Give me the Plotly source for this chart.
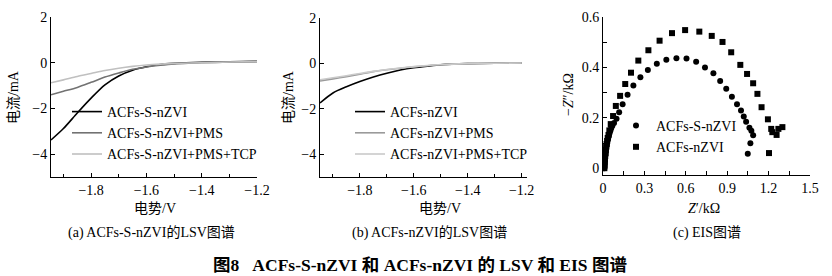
import plotly.graph_objects as go

W, H = 832, 276
FONT = "Liberation Serif, Noto Sans CJK SC, serif"

# ---------------- data ----------------
# (a) LSV of ACFs-S-nZVI
va = [-1.945, -1.9, -1.85, -1.8, -1.75, -1.7, -1.65, -1.6, -1.55, -1.5, -1.4, -1.3, -1.2]
a_snzvi = [-3.38, -2.88, -2.2, -1.55, -0.97, -0.58, -0.33, -0.18, -0.08, -0.03, 0.02, 0.04, 0.06]
a_snzvi_pms = [-1.40, -1.25, -1.08, -0.86, -0.63, -0.45, -0.29, -0.19, -0.11, -0.05, 0.0, 0.03, 0.05]
a_snzvi_pms_tcp = [-0.88, -0.75, -0.60, -0.47, -0.34, -0.24, -0.16, -0.10, -0.06, -0.03, 0.0, 0.03, 0.05]

# (b) LSV of ACFs-nZVI
vb = [-1.948, -1.9, -1.85, -1.8, -1.75, -1.7, -1.65, -1.6, -1.55, -1.5, -1.4, -1.3, -1.2]
b_nzvi = [-1.74, -1.30, -1.03, -0.80, -0.60, -0.43, -0.29, -0.19, -0.12, -0.06, -0.01, 0.01, 0.02]
b_nzvi_pms = [-0.77, -0.68, -0.58, -0.47, -0.36, -0.28, -0.21, -0.15, -0.10, -0.06, -0.01, 0.01, 0.02]
b_nzvi_pms_tcp = [-0.72, -0.63, -0.54, -0.44, -0.35, -0.27, -0.20, -0.14, -0.09, -0.05, -0.01, 0.01, 0.02]

# (c) EIS (Nyquist)
c_s_zre = [0.010, 0.011, 0.012, 0.014, 0.015, 0.017, 0.019, 0.021, 0.024, 0.027, 0.030, 0.034,
           0.038, 0.043, 0.048, 0.054, 0.060, 0.068, 0.080, 0.098, 0.117, 0.142, 0.178, 0.220,
           0.271, 0.325, 0.390, 0.459, 0.532, 0.605, 0.675, 0.739, 0.800, 0.849, 0.893, 0.934,
           0.971, 1.000, 1.020, 1.037, 1.061, 1.075, 1.088, 1.068, 1.049]
c_s_zim = [0.000, 0.010, 0.020, 0.030, 0.040, 0.050, 0.060, 0.070, 0.080, 0.090, 0.100, 0.110,
           0.120, 0.130, 0.140, 0.150, 0.160, 0.168, 0.179, 0.196, 0.222, 0.254, 0.291, 0.328,
           0.361, 0.390, 0.414, 0.430, 0.436, 0.435, 0.422, 0.400, 0.377, 0.346, 0.315, 0.284,
           0.254, 0.229, 0.205, 0.184, 0.161, 0.149, 0.131, 0.099, 0.057]
c_n_zre = [0.010, 0.011, 0.012, 0.014, 0.016, 0.018, 0.020, 0.023, 0.026, 0.030, 0.034, 0.040,
           0.046, 0.056, 0.073, 0.093, 0.124, 0.161, 0.203, 0.256, 0.329, 0.410, 0.500, 0.595,
           0.698, 0.788, 0.866, 0.929, 0.995, 1.044, 1.088, 1.119, 1.149, 1.195, 1.219, 1.227,
           1.258, 1.271, 1.300, 1.203]
c_n_zim = [0.000, 0.012, 0.024, 0.036, 0.048, 0.060, 0.072, 0.084, 0.096, 0.108, 0.120, 0.132,
           0.150, 0.175, 0.207, 0.247, 0.287, 0.334, 0.379, 0.427, 0.468, 0.506, 0.536, 0.548,
           0.542, 0.525, 0.501, 0.460, 0.410, 0.374, 0.337, 0.295, 0.242, 0.194, 0.156, 0.143,
           0.132, 0.156, 0.163, 0.060]

# ---------------- figure ----------------
fig = go.Figure()

def line(x, y, name, color, xa, ya, leg):
    fig.add_trace(go.Scatter(x=x, y=y, name=name, mode="lines",
                             line=dict(color=color, width=1.6, shape="spline", smoothing=0.8),
                             xaxis=xa, yaxis=ya, legend=leg))

line(va, a_snzvi, "ACFs-S-nZVI", "#000000", "x", "y", "legend")
line(va, a_snzvi_pms, "ACFs-S-nZVI+PMS", "#727272", "x", "y", "legend")
line(va, a_snzvi_pms_tcp, "ACFs-S-nZVI+PMS+TCP", "#c0c0c0", "x", "y", "legend")

line(vb, b_nzvi, "ACFs-nZVI", "#000000", "x2", "y2", "legend2")
line(vb, b_nzvi_pms, "ACFs-nZVI+PMS", "#9a9a9a", "x2", "y2", "legend2")
line(vb, b_nzvi_pms_tcp, "ACFs-nZVI+PMS+TCP", "#cacaca", "x2", "y2", "legend2")

fig.add_trace(go.Scatter(x=c_s_zre, y=c_s_zim, name="ACFs-S-nZVI", mode="markers",
                         marker=dict(symbol="circle", size=6, color="#000000"),
                         xaxis="x3", yaxis="y3", legend="legend3"))
fig.add_trace(go.Scatter(x=c_n_zre, y=c_n_zim, name="ACFs-nZVI", mode="markers",
                         marker=dict(symbol="square", size=6, color="#000000"),
                         xaxis="x3", yaxis="y3", legend="legend3"))

def px(x):
    return x / W

def py(y):
    return 1 - y / H

tickfont = dict(family=FONT, size=14, color="#000")
common = dict(showgrid=False, zeroline=False, showline=True, linecolor="#000", linewidth=1,
              ticks="inside", ticklen=4, tickcolor="#000", tickfont=tickfont, mirror=False,
              automargin=False)

lsv_x = dict(common, tickvals=[-1.8, -1.6, -1.4, -1.2], ticktext=["−1.8", "−1.6", "−1.4", "−1.2"],
             minor=dict(dtick=0.1, tick0=-1.9, ticks="inside", ticklen=3, tickcolor="#000"))
lsv_y = dict(common, tickvals=[2, 0, -2, -4], ticktext=["2", "0", "−2", "−4"], range=[-5, 2])

legfont = dict(family=FONT, size=14, color="#000")

fig.update_layout(
    width=W, height=H, margin=dict(l=0, r=0, t=0, b=0, autoexpand=False),
    paper_bgcolor="white", plot_bgcolor="white",
    font=dict(family=FONT, size=13, color="#000"),
    xaxis=dict(lsv_x, domain=[px(51), px(257)], range=[-1.945, -1.2], anchor="y"),
    yaxis=dict(lsv_y, domain=[py(177), py(17)], anchor="x"),
    xaxis2=dict(lsv_x, domain=[px(320), px(527)], range=[-1.948, -1.18], anchor="y2"),
    yaxis2=dict(lsv_y, domain=[py(177), py(18)], anchor="x2"),
    xaxis3=dict(common, domain=[px(603), px(810)], range=[0, 1.5], anchor="y3",
                tickvals=[0, 0.3, 0.6, 0.9, 1.2, 1.5],
                minor=dict(dtick=0.15, tick0=0, ticks="inside", ticklen=4, tickcolor="#000")),
    yaxis3=dict(common, domain=[py(175), py(17)], range=[-0.027, 0.6], anchor="x3",
                tickvals=[0, 0.2, 0.4, 0.6],
                minor=dict(dtick=0.1, tick0=0, ticks="inside", ticklen=4, tickcolor="#000")),
    legend=dict(x=px(67), y=py(96), xanchor="left", yanchor="top", bgcolor="rgba(0,0,0,0)",
                font=legfont, tracegroupgap=0, itemwidth=30),
    legend2=dict(x=px(350), y=py(96), xanchor="left", yanchor="top", bgcolor="rgba(0,0,0,0)",
                 font=legfont, tracegroupgap=0, itemwidth=30),
    legend3=dict(x=px(616), y=py(110), xanchor="left", yanchor="top", bgcolor="rgba(0,0,0,0)",
                 font=legfont, tracegroupgap=0, itemwidth=30),
    showlegend=True,
)

def ann(text, x, y, size=14, angle=0, bold=False):
    fig.add_annotation(text=f"<b>{text}</b>" if bold else text, x=px(x), y=py(y),
                       xref="paper", yref="paper", showarrow=False, textangle=angle,
                       xanchor="center", yanchor="middle",
                       font=dict(family=FONT, size=size, color="#000"))

# axis titles
ann("电流/mA", 13, 97, 14, -90)
ann("电势/V", 155, 208, 14)
ann("电流/mA", 288, 97, 14, -90)
ann("电势/V", 440, 208, 14)
ann("−<i>Z</i>″/kΩ", 568, 95, 14, -90)
ann("<i>Z</i>′/kΩ", 704, 208, 14)

# captions
ann("(a) ACFs-S-nZVI的LSV图谱", 151, 233, 14)
ann("(b) ACFs-nZVI的LSV图谱", 429, 233, 14)
ann("(c) EIS图谱", 707, 233, 14)

# figure title
ann("图8&nbsp;&nbsp;&nbsp;ACFs-S-nZVI 和 ACFs-nZVI 的 LSV 和 EIS 图谱", 420, 265, 17.5, bold=True)

fig.write_html("out.html")
